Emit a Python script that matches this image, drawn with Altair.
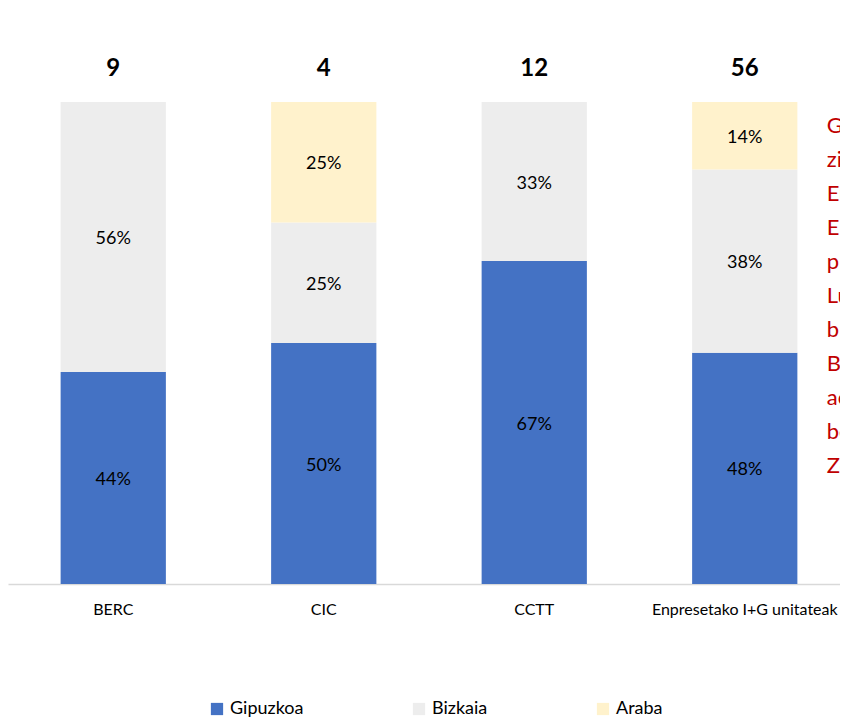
import altair as alt
import pandas as pd

categories = ["BERC", "CIC", "CCTT", "Enpresetako I+G unitateak"]
regions = ["Gipuzkoa", "Bizkaia", "Araba"]
gipuzkoa = [44, 50, 67, 48]
bizkaia = [56, 25, 33, 38]
araba = [0, 25, 0, 14]
totals = [9, 4, 12, 56]
colors = ["#4472C4", "#EDEDED", "#FFF2CC"]
note_lines = ["G", "zi", "Eu", "En", "p", "Lu", "b", "B", "ac", "be", "Ze"]

FONT = "Lato"

rows = []
for i, c in enumerate(categories):
    for j, (r, vals) in enumerate(zip(regions, [gipuzkoa, bizkaia, araba])):
        if vals[i] > 0:
            rows.append({"category": c, "region": r, "value": vals[i], "order": j})
df = pd.DataFrame(rows)
df_tot = pd.DataFrame({"category": categories, "total": totals})
df_note = pd.DataFrame({"category": [categories[-1]]})

x_enc = alt.X(
    "category:N",
    sort=categories,
    scale=alt.Scale(paddingInner=0.5, paddingOuter=0.25, range=[0, 842]),
    axis=alt.Axis(
        title=None, labelAngle=0, ticks=False, domainColor="#D9D9D9",
        domainWidth=1.5, labelFontSize=16, labelFont=FONT, labelColor="#000000",
        labelPadding=17, labelLimit=400,
    ),
)
y_scale = alt.Scale(domain=[0, 100])

base = alt.Chart(df).transform_stack(
    stack="value", groupby=["category"], as_=["y0", "y1"],
    sort=[alt.SortField("order", order="ascending")],
)

bars = base.mark_bar().encode(
    x=x_enc,
    y=alt.Y("y0:Q", scale=y_scale, axis=None),
    y2="y1:Q",
    color=alt.Color(
        "region:N",
        scale=alt.Scale(domain=regions, range=colors),
        legend=alt.Legend(
            title=None, orient="none", legendX=200, legendY=598,
            direction="horizontal", symbolType="square", symbolSize=150,
            symbolStrokeWidth=0, labelFontSize=18, labelFont=FONT,
            labelColor="#000000", columnPadding=106, labelOffset=4,
        ),
    ),
)

labels = base.transform_calculate(
    mid="(datum.y0 + datum.y1) / 2", txt="datum.value + '%'"
).mark_text(
    fontSize=18, font=FONT, color="#000000", baseline="middle", dy=2
).encode(
    x=alt.X("category:N", sort=categories),
    y=alt.Y("mid:Q", scale=y_scale),
    text="txt:N",
)

tot = alt.Chart(df_tot).mark_text(
    fontSize=24, fontWeight="bold", font=FONT, color="#000000", dy=-33, baseline="middle"
).encode(
    x=alt.X("category:N", sort=categories),
    y=alt.datum(100),
    text="total:Q",
)

note = alt.Chart(df_note).mark_text(
    text=note_lines, align="left", baseline="top", fontSize=22, font=FONT,
    color="#C00000", lineHeight=34, dx=82, dy=14,
).encode(
    x=alt.X("category:N", sort=categories),
    y=alt.datum(100),
)

chart = alt.layer(bars, labels, tot, note).properties(
    width=832, height=482,
    padding={"left": 0, "right": 0, "top": 94, "bottom": 133},
    autosize=alt.AutoSizeParams(type="none"),
).configure_view(stroke=None)

chart.save("out.html", embed_options={"renderer": "svg", "actions": False})
